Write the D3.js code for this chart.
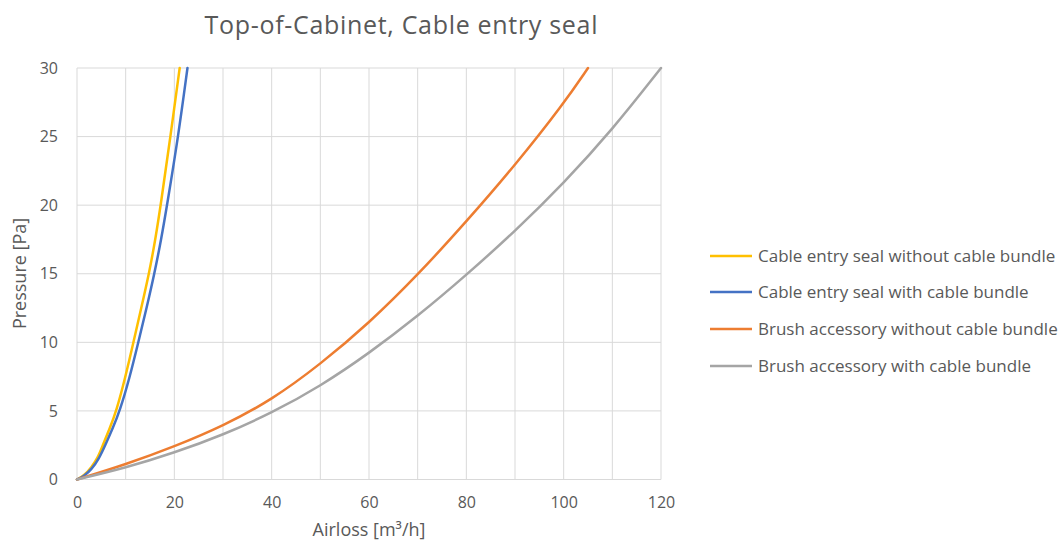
<!DOCTYPE html>
<html><head><meta charset="utf-8">
<script src="https://cdn.jsdelivr.net/npm/d3@7"></script>
<style>body{margin:0;background:#fff}svg{display:block}</style>
</head><body>
<svg id="c" width="1063" height="548"></svg>
<script>
const title = "Top-of-Cabinet, Cable entry seal";
const xTitle = "Airloss [m³/h]";
const yTitle = "Pressure [Pa]";
const xTicks = [0, 20, 40, 60, 80, 100, 120];
const yTicks = [0, 5, 10, 15, 20, 25, 30];
const seriesNames = ["Cable entry seal without cable bundle", "Cable entry seal with cable bundle", "Brush accessory without cable bundle", "Brush accessory with cable bundle"];
const seriesColors = ["#FFC000", "#4472C4", "#ED7D31", "#A5A5A5"];
// airloss (x) and pressure (y) points per series
const sealNoBundleX = [0, 1.5, 3, 4.3, 5.3, 6.7, 8.1, 9.9, 11.6, 13.2, 14.8, 16.1, 17.2, 19.2, 21.1];
const sealNoBundleY = [0, 0.3, 0.9, 1.6, 2.5, 3.7, 5, 7.4, 10, 12.5, 15, 17.5, 20, 25, 30];
const sealBundleX = [0, 1.5, 3, 4.5, 5.8, 7.3, 8.8, 10.8, 12.6, 14.3, 15.9, 17.3, 18.5, 20.8, 22.7];
const sealBundleY = [0, 0.25, 0.75, 1.5, 2.5, 3.7, 5, 7.4, 10, 12.5, 15, 17.5, 20, 25, 30];
const brushNoBundleX = [0, 10, 20, 30, 40, 50, 60, 70, 80, 90, 100, 105];
const brushNoBundleY = [0, 1.1, 2.4, 3.9, 5.8, 8.4, 11.4, 14.9, 18.8, 22.9, 27.4, 30];
const brushBundleX = [0, 10, 20, 30, 40, 50, 60, 70, 80, 90, 100, 110, 120];
const brushBundleY = [0, 0.85, 1.95, 3.25, 4.85, 6.8, 9.2, 11.9, 14.9, 18.1, 21.6, 25.5, 30];

const xs = [sealNoBundleX, sealBundleX, brushNoBundleX, brushBundleX];
const ys = [sealNoBundleY, sealBundleY, brushNoBundleY, brushBundleY];

const svg = d3.select("#c");
const L = 77, R = 661, T = 68, B = 479.5;
const x = d3.scaleLinear().domain([0, 120]).range([L, R]);
const y = d3.scaleLinear().domain([0, 30]).range([B, T]);
const txt = "#595959", grid = "#D9D9D9";
const font = "'Open Sans', sans-serif";

// grid
const g = svg.append("g");
g.selectAll(".vg").data(d3.range(0, 121, 10)).enter().append("line")
  .attr("x1", d => x(d)).attr("x2", d => x(d)).attr("y1", T).attr("y2", B)
  .attr("stroke", grid).attr("stroke-width", 1);
g.selectAll(".hg").data(yTicks).enter().append("line")
  .attr("x1", L).attr("x2", R).attr("y1", d => y(d)).attr("y2", d => y(d))
  .attr("stroke", grid).attr("stroke-width", 1);

// axes labels via d3 axes
const xAxis = svg.append("g").attr("transform", `translate(0,${B})`)
  .call(d3.axisBottom(x).tickValues(xTicks).tickSize(0).tickPadding(17));
const yAxis = svg.append("g").attr("transform", `translate(${L},0)`)
  .call(d3.axisLeft(y).tickValues(yTicks).tickSize(0).tickPadding(19));
[xAxis, yAxis].forEach(a => {
  a.select(".domain").remove();
  a.selectAll("text").attr("fill", txt).style("font-family", font).style("font-size", "16px");
});

// lines
const line = d3.line().x(d => x(d[0])).y(d => y(d[1])).curve(d3.curveBasis);
xs.forEach((xv, i) => {
  const pts = xv.map((v, j) => [v, ys[i][j]]);
  svg.append("path").datum(pts).attr("d", line)
    .attr("fill", "none").attr("stroke", seriesColors[i]).attr("stroke-width", 2.5)
    .attr("stroke-linecap", "round");
});

// title
svg.append("text").attr("x", 401).attr("y", 34).attr("text-anchor", "middle")
  .attr("textLength", 393).attr("lengthAdjust", "spacing")
  .attr("fill", txt).style("font-family", font).style("font-size", "25px").text(title);
svg.append("text").attr("x", 369).attr("y", 536).attr("text-anchor", "middle")
  .attr("fill", txt).style("font-family", font).style("font-size", "18px").text(xTitle);
svg.append("text").attr("transform", "translate(26,273.5) rotate(-90)").attr("text-anchor", "middle")
  .attr("fill", txt).style("font-family", font).style("font-size", "18px").text(yTitle);

// legend
const leg = svg.append("g");
const rowY = [256, 292, 329, 366];
seriesNames.forEach((n, i) => {
  leg.append("line").attr("x1", 710).attr("x2", 752).attr("y1", rowY[i]).attr("y2", rowY[i])
    .attr("stroke", seriesColors[i]).attr("stroke-width", 2.5);
  leg.append("text").attr("x", 758).attr("y", rowY[i] + 6)
    .attr("fill", txt).style("font-family", font).style("font-size", "17px").text(n);
});
</script>
</body></html>
